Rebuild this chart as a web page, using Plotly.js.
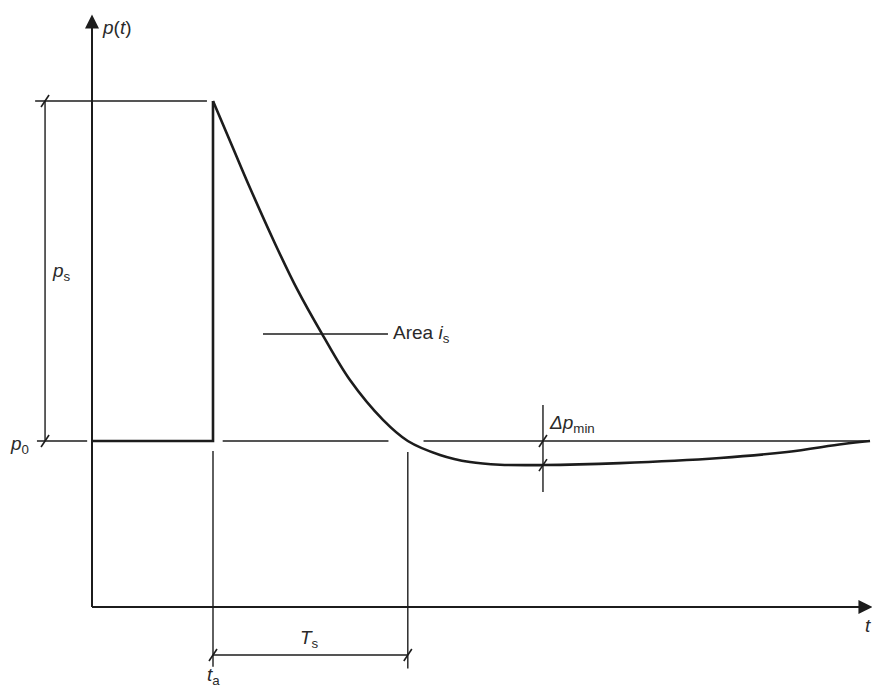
<!DOCTYPE html>
<html>
<head>
<meta charset="utf-8">
<script src="https://cdn.plot.ly/plotly-3.0.1.min.js"></script>
<style>
  html, body { margin: 0; padding: 0; background: #ffffff; }
  #chart { width: 872px; height: 690px; }
</style>
</head>
<body>
<div id="chart"></div>
<script>
// Idealised blast-wave overpressure history p(t) (normalised units: p0 = 1, ta = 1)
const ambientP = 1.0;      // p0
const peakOverP = 2.048;   // ps
const arrivalT = 1.0;      // ta
const posDuration = 1.61;  // Ts
const negPeak = 0.145;     // Δp_min

// Pressure trace: ambient until arrival, jump to the peak, decay, negative phase
const tCurve = [0, 1.0, 1.0, 1.165, 1.306, 1.512, 1.694, 1.901, 2.132, 2.405, 2.61, 2.876, 3.124, 3.372, 3.727, 4.364, 5.190, 5.744, 6.207, 6.43];
const pCurve = [1.0, 1.0, 3.048, 2.765, 2.524, 2.190, 1.916, 1.645, 1.367, 1.127, 1.0, 0.916, 0.873, 0.857, 0.855, 0.867, 0.898, 0.934, 0.982, 1.0];

// Axis extents
const tMax = 6.43;
const pMax = 3.55;

// Page geometry: origin of the t/p axes and pixels per unit
const W = 872, H = 690;
const X0 = 92, XS = 121;
const Y0 = 607, YS = 166;

const ink = '#1c1c1c';
const thin = 1.4, mid = 2.0, thick = 2.6;

function seg(xa, ya, xb, yb, w) {
  return { type: 'line', xref: 'x', yref: 'y', x0: xa, y0: ya, x1: xb, y1: yb,
           line: { color: ink, width: w || thin } };
}
// short oblique dimension tick drawn at a data point
function tick(x, y) {
  return { type: 'line', xref: 'x', yref: 'y', xsizemode: 'pixel', ysizemode: 'pixel',
           xanchor: x, yanchor: y, x0: -4, x1: 4, y0: -6, y1: 6,
           line: { color: ink, width: 1.6 } };
}

const pPeak = ambientP + peakOverP;
const tEnd = arrivalT + posDuration;
const pMin = ambientP - negPeak;
const xDim = -0.388;    // vertical dimension line for ps
const tMinAt = 3.727;   // location of the negative peak marker
const pTs = -0.289;     // level of the Ts dimension line

const shapes = [
  // axes
  seg(0, 0, 0, pMax - 0.05, mid),
  seg(0, 0, tMax - 0.05, 0, mid),
  // peak reference and ps dimension
  seg(-0.47, pPeak, arrivalT - 0.05, pPeak),
  seg(xDim, ambientP, xDim, pPeak),
  tick(xDim, pPeak), tick(xDim, ambientP),
  // ambient reference line p0 (broken)
  seg(-0.455, ambientP, -0.04, ambientP),
  seg(arrivalT + 0.08, ambientP, 2.45, ambientP),
  seg(2.74, ambientP, tMax, ambientP),
  // arrival time and end of positive phase
  seg(arrivalT, ambientP - 0.06, arrivalT, -0.36),
  seg(tEnd, 0.934, tEnd, -0.37),
  // Ts dimension
  seg(arrivalT, pTs, tEnd, pTs),
  tick(arrivalT, pTs), tick(tEnd, pTs),
  // area leader line
  seg(1.413, 1.645, 2.446, 1.645),
  // negative phase dimension
  seg(tMinAt, 0.693, tMinAt, 1.217),
  tick(tMinAt, ambientP), tick(tMinAt, pMin)
];

const txtFont = { family: 'Liberation Sans, Arial, sans-serif', size: 19, color: '#2a2a2a' };
function label(x, y, text, xanchor, extra) {
  return Object.assign({ x: x, y: y, xref: 'x', yref: 'y', text: text, showarrow: false,
                         xanchor: xanchor || 'center', yanchor: 'middle', font: txtFont }, extra || {});
}

const annotations = [
  // arrow heads
  { x: 0, y: pMax + 0.02, ax: 0, ay: pMax - 0.3, xref: 'x', yref: 'y', axref: 'x', ayref: 'y',
    text: '', showarrow: true, arrowhead: 2, arrowsize: 1.4, arrowwidth: 2, arrowcolor: ink },
  { x: tMax + 0.02, y: 0, ax: tMax - 0.3, ay: 0, xref: 'x', yref: 'y', axref: 'x', ayref: 'y',
    text: '', showarrow: true, arrowhead: 2, arrowsize: 1.4, arrowwidth: 2, arrowcolor: ink },
  label(0.065, 3.494, '<i>p</i>(<i>t</i>)', 'left'),
  label(tMax - 0.02, -0.11, '<i>t</i>', 'center'),
  label(-0.256, 2.02, '<i>p</i><sub>s</sub>', 'center'),
  label(-0.695, 0.975, '<i>p</i><sub>0</sub>', 'left'),
  label(1.80, -0.19, '<i>T</i><sub>s</sub>', 'center'),
  label(arrivalT, -0.497, '<i>t</i><sub>a</sub>', 'center', { yanchor: 'bottom' }),
  label(2.475, 1.645, 'Area <i>i</i><sub>s</sub>', 'left'),
  label(3.76, 1.10, '<i>Δp</i><sub>min</sub>', 'left')
];

const traces = [
  { x: tCurve.slice(0, 3), y: pCurve.slice(0, 3), mode: 'lines', hoverinfo: 'skip',
    line: { color: ink, width: thick, shape: 'linear' } },
  { x: tCurve.slice(2), y: pCurve.slice(2), mode: 'lines', hoverinfo: 'skip',
    line: { color: ink, width: thick, shape: 'spline', smoothing: 1.0 } }
];

const layout = {
  width: W, height: H,
  margin: { l: 0, r: 0, t: 0, b: 0 },
  paper_bgcolor: '#ffffff', plot_bgcolor: '#ffffff',
  showlegend: false,
  xaxis: { range: [-X0 / XS, (W - X0) / XS], visible: false, fixedrange: true },
  yaxis: { range: [-(H - Y0) / YS, Y0 / YS], visible: false, fixedrange: true },
  shapes: shapes,
  annotations: annotations
};

Plotly.newPlot('chart', traces, layout, { displayModeBar: false, staticPlot: true });
</script>
</body>
</html>
